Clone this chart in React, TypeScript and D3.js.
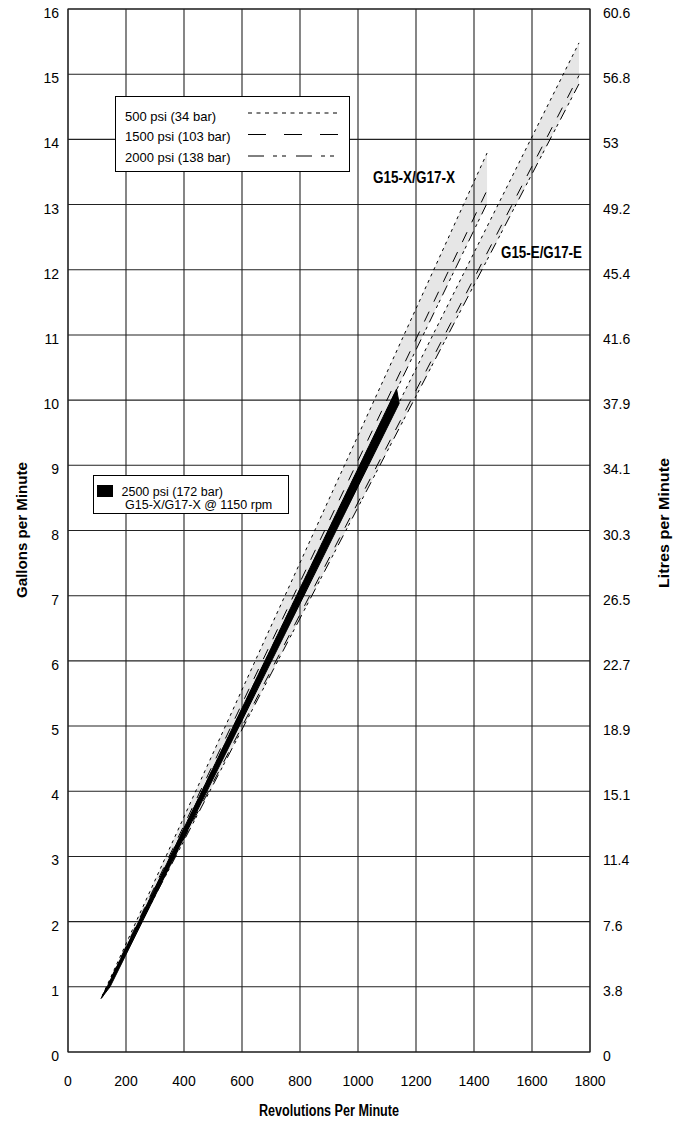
import React from "react";
import * as d3 from "d3";

// ---------- data ----------
const rpmTicks = [0, 200, 400, 600, 800, 1000, 1200, 1400, 1600, 1800];
const gpmTicks = [0, 1, 2, 3, 4, 5, 6, 7, 8, 9, 10, 11, 12, 13, 14, 15, 16];
const litreLabels = ["0", "3.8", "7.6", "11.4", "15.1", "18.9", "22.7", "26.5", "30.3", "34.1", "37.9", "41.6", "45.4", "49.2", "53", "56.8", "60.6"];

const pressureLabels = ["500 psi (34 bar)", "1500 psi (103 bar)", "2000 psi (138 bar)"];

// G15-X/G17-X lines: [rpm, gpm] for 500, 1500, 2000 psi
const g15X500 = [[118, 0.86], [1445, 13.79]];
const g15X1500 = [[118, 0.85], [1445, 13.22]];
const g15X2000 = [[118, 0.84], [1445, 13.02]];
// G15-E/G17-E lines
const g15E500 = [[118, 0.86], [1762, 15.48]];
const g15E1500 = [[118, 0.85], [1762, 14.98]];
const g15E2000 = [[118, 0.84], [1762, 14.85]];
// 2500 psi black band (G15-X @ 1150 rpm)
const black2500Upper = [[114, 0.82], [137, 1.02], [1133, 10.17]];
const black2500Lower = [[114, 0.82], [145, 1.0], [1142, 9.95]];

const bandLabels = ["G15-X/G17-X", "G15-E/G17-E"];
const blackLegendLines = ["2500 psi (172 bar)", "G15-X/G17-X @ 1150 rpm"];

// ---------- component ----------
export default function App() {
  const W = 686, H = 1126;
  const x = d3.scaleLinear().domain([0, 1800]).range([68, 590]);
  const y = d3.scaleLinear().domain([0, 16]).range([1052, 9]);
  const line = d3.line<number[]>().x((d) => x(d[0])).y((d) => y(d[1]));

  const band = (top: number[][], bottom: number[][]) =>
    line([...top, ...bottom.slice().reverse()]) + "Z";

  const chartDash = ["3,4", "11,11", "11,5,3,3,3,5"];
  const legendDash = ["4,4.5", "18,18", "16,9,4,5,4,10"];
  const xLines = [g15X500, g15X1500, g15X2000];
  const eLines = [g15E500, g15E1500, g15E2000];

  const font = "'Liberation Sans', Arial, Helvetica, sans-serif";
  const gridColor = "#222";

  return (
    <svg width={W} height={H} style={{ position: "absolute", left: 0, top: 0, background: "#fff" }} fontFamily={font}>
      <rect x={0} y={0} width={W} height={H} fill="#fff" />
      {/* grey bands */}
      <path d={band(g15X500, g15X2000)} fill="#e6e6e6" />
      <path d={band(g15E500, g15E2000)} fill="#e6e6e6" />

      {/* grid */}
      {rpmTicks.map((t) => (
        <line key={"v" + t} x1={x(t)} x2={x(t)} y1={y(0)} y2={y(16)} stroke={gridColor} strokeWidth={1.1} />
      ))}
      {gpmTicks.map((t) => (
        <line key={"h" + t} x1={x(0)} x2={x(1800)} y1={y(t)} y2={y(t)} stroke={gridColor} strokeWidth={1.1} />
      ))}
      <rect x={x(0)} y={y(16)} width={x(1800) - x(0)} height={y(0) - y(16)} fill="none" stroke={gridColor} strokeWidth={1.1} />

      {/* lines */}
      {xLines.map((l, i) => (
        <path key={"x" + i} d={line(l) || ""} fill="none" stroke="#000" strokeWidth={1} strokeDasharray={chartDash[i]} />
      ))}
      {eLines.map((l, i) => (
        <path key={"e" + i} d={line(l) || ""} fill="none" stroke="#000" strokeWidth={1} strokeDasharray={chartDash[i]} />
      ))}

      {/* black 2500 psi band */}
      <path d={band(black2500Upper, black2500Lower)} fill="#000" stroke="#000" strokeWidth={1} strokeLinejoin="round" />

      {/* band labels */}
      <text x={373} y={183} fontSize={17} fontWeight="bold" textLength={82} lengthAdjust="spacingAndGlyphs">{bandLabels[0]}</text>
      <text x={501} y={258} fontSize={17} fontWeight="bold" textLength={81} lengthAdjust="spacingAndGlyphs">{bandLabels[1]}</text>

      {/* legend 1 */}
      <rect x={115.5} y={96.5} width={234} height={75} fill="#fff" stroke="#000" strokeWidth={1} />
      {pressureLabels.map((p, i) => (
        <g key={"lg" + i}>
          <text x={125} y={121 + i * 20.4} fontSize={13}>{p}</text>
          <line x1={248} x2={338} y1={113 + i * 21.5} y2={113 + i * 21.5} stroke="#000" strokeWidth={1} strokeDasharray={legendDash[i]} />
        </g>
      ))}

      {/* legend 2 */}
      <rect x={93.5} y={475.5} width={195} height={38} fill="#fff" stroke="#000" strokeWidth={1} />
      <rect x={97} y={485} width={16} height={12} fill="#000" />
      <text x={121.5} y={496} fontSize={12.5}>{blackLegendLines[0]}</text>
      <text x={125} y={508.5} fontSize={12.5}>{blackLegendLines[1]}</text>

      {/* left ticks */}
      {gpmTicks.map((t) => (
        <text key={"ly" + t} x={59} y={y(t) + 9} fontSize={14} textAnchor="end">{t}</text>
      ))}
      {/* right ticks */}
      {litreLabels.map((t, i) => (
        <text key={"ry" + i} x={603} y={y(gpmTicks[i]) + 9} fontSize={14}>{t}</text>
      ))}
      {/* bottom ticks */}
      {rpmTicks.map((t) => (
        <text key={"bx" + t} x={x(t)} y={1086} fontSize={14} textAnchor="middle">{t}</text>
      ))}

      {/* axis titles */}
      <text x={329} y={1116} fontSize={16} fontWeight="bold" textAnchor="middle" textLength={140} lengthAdjust="spacingAndGlyphs">Revolutions Per Minute</text>
      <text transform="translate(27,530) rotate(-90)" fontSize={15.5} fontWeight="bold" textAnchor="middle" textLength={136} lengthAdjust="spacingAndGlyphs">Gallons per Minute</text>
      <text transform="translate(669,523) rotate(-90)" fontSize={15.5} fontWeight="bold" textAnchor="middle" textLength={130} lengthAdjust="spacingAndGlyphs">Litres per Minute</text>
    </svg>
  );
}
